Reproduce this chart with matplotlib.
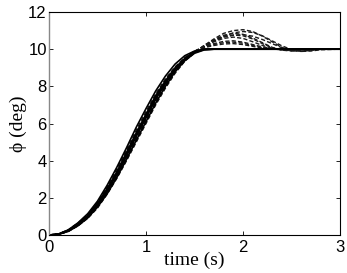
import matplotlib
matplotlib.use('Agg')
import matplotlib.pyplot as plt

# shared time base (s)
t = [0, 0.1, 0.2, 0.3, 0.4, 0.5, 0.6, 0.7, 0.8, 0.9, 1.0, 1.1, 1.2, 1.3, 1.4,
     1.5, 1.6, 1.7, 1.8, 1.9, 2.0, 2.1, 2.2, 2.3, 2.4, 2.5, 2.6, 2.7, 2.8, 3.0]

# solid curves - no overshoot
s1 = [0, 0.06, 0.28, 0.66, 1.15, 1.82, 2.68, 3.65, 4.7, 5.8, 6.8, 7.75, 8.55, 9.2, 9.65,
      9.9, 10.0, 10, 10, 10, 10, 10, 10, 10, 10, 10, 10, 10, 10, 10]
s2 = [0, 0.05, 0.25, 0.6, 1.05, 1.7, 2.5, 3.4, 4.45, 5.5, 6.5, 7.5, 8.3, 9.0, 9.5,
      9.85, 10.0, 10, 10, 10, 10, 10, 10, 10, 10, 10, 10, 10, 10, 10]
s3 = [0, 0.04, 0.22, 0.55, 0.98, 1.58, 2.35, 3.25, 4.25, 5.3, 6.3, 7.3, 8.15, 8.88, 9.45,
      9.82, 9.98, 10, 10, 10, 10, 10, 10, 10, 10, 10, 10, 10, 10, 10]
s4 = [0, 0.04, 0.2, 0.5, 0.92, 1.5, 2.22, 3.1, 4.08, 5.1, 6.1, 7.1, 8.0, 8.78, 9.38,
      9.78, 9.96, 10, 10, 10, 10, 10, 10, 10, 10, 10, 10, 10, 10, 10]
s5 = [0, 0.05, 0.24, 0.58, 1.02, 1.64, 2.42, 3.32, 4.35, 5.4, 6.4, 7.4, 8.22, 8.94, 9.48,
      9.84, 9.99, 10, 10, 10, 10, 10, 10, 10, 10, 10, 10, 10, 10, 10]

# dashed curves - with overshoot
d1 = [0, 0.04, 0.2, 0.5, 0.9, 1.45, 2.2, 3.05, 4.0, 5.0, 6.0, 7.0, 7.9, 8.7, 9.35,
      9.8, 10.2, 10.55, 10.85, 11.0, 11.05, 10.95, 10.7, 10.4, 10.1, 9.92, 9.88, 9.95, 10.0, 10.0]
d2 = [0, 0.05, 0.22, 0.55, 0.95, 1.55, 2.3, 3.2, 4.2, 5.2, 6.2, 7.2, 8.1, 8.85, 9.45,
      9.85, 10.2, 10.5, 10.75, 10.85, 10.8, 10.6, 10.35, 10.1, 9.95, 9.9, 9.95, 10, 10, 10]
d3 = [0, 0.05, 0.25, 0.6, 1.05, 1.65, 2.45, 3.35, 4.35, 5.4, 6.4, 7.35, 8.2, 8.9, 9.5,
      9.88, 10.15, 10.4, 10.58, 10.65, 10.58, 10.4, 10.2, 10.05, 9.97, 9.95, 9.97, 10, 10, 10]
d4 = [0, 0.06, 0.28, 0.65, 1.1, 1.75, 2.6, 3.55, 4.6, 5.65, 6.65, 7.6, 8.4, 9.05, 9.55,
      9.9, 10.12, 10.3, 10.42, 10.45, 10.38, 10.25, 10.12, 10.03, 9.98, 9.98, 10, 10, 10, 10]
d5 = [0, 0.05, 0.26, 0.62, 1.08, 1.7, 2.5, 3.45, 4.5, 5.55, 6.55, 7.5, 8.35, 9.0, 9.52,
      9.88, 10.08, 10.2, 10.28, 10.3, 10.25, 10.15, 10.06, 10.0, 9.98, 10, 10, 10, 10, 10]
d6 = [0, 0.04, 0.21, 0.52, 0.93, 1.5, 2.25, 3.1, 4.05, 5.05, 6.05, 7.05, 7.95, 8.75, 9.38,
      9.82, 10.12, 10.42, 10.7, 10.88, 10.95, 10.9, 10.72, 10.45, 10.18, 9.98, 9.88, 9.9, 9.97, 10.0]
d7 = [0, 0.05, 0.23, 0.57, 1.0, 1.6, 2.38, 3.28, 4.28, 5.3, 6.3, 7.28, 8.15, 8.88, 9.47,
      9.86, 10.18, 10.46, 10.68, 10.76, 10.72, 10.55, 10.3, 10.08, 9.96, 9.92, 9.96, 10, 10, 10]
d8 = [0, 0.05, 0.24, 0.59, 1.03, 1.63, 2.42, 3.3, 4.32, 5.35, 6.35, 7.32, 8.18, 8.9, 9.48,
      9.87, 10.1, 10.25, 10.35, 10.38, 10.32, 10.2, 10.08, 10.01, 9.98, 9.99, 10, 10, 10, 10]
d9 = [0, 0.04, 0.21, 0.53, 0.95, 1.52, 2.28, 3.15, 4.12, 5.12, 6.12, 7.12, 8.02, 8.8, 9.42,
      9.84, 10.15, 10.45, 10.65, 10.75, 10.78, 10.7, 10.52, 10.3, 10.08, 9.94, 9.9, 9.94, 9.99, 10.0]

solid = [s1, s2, s3, s4, s5]
dashed = [d1, d2, d3, d4, d5, d6, d7, d8, d9]

fig = plt.figure(figsize=(3.47, 2.73), dpi=100)
ax = fig.add_axes([0.141, 0.139, 0.839, 0.817])

for y in dashed:
    ax.plot(t, y, color='#1a1a1a', lw=1.0, ls=(0, (3, 1.6)))
for y in solid:
    ax.plot(t, y, color='black', lw=1.2)

ax.set_xlim(0, 3)
ax.set_ylim(0, 12)
ax.set_xticks([0, 1, 2, 3])
ax.set_yticks([0, 2, 4, 6, 8, 10, 12])
ax.tick_params(direction='in', length=3, width=0.6, top=True, right=True,
               labelsize=12, pad=1.5)
ax.tick_params(axis='x', pad=3.5)
for lab in ax.get_xticklabels() + ax.get_yticklabels():
    lab.set_family('Liberation Sans')
for side in ['top', 'right', 'bottom']:
    ax.spines[side].set_color('black')
    ax.spines[side].set_linewidth(0.8)
ax.spines['left'].set_color('#888888')
ax.spines['left'].set_linewidth(1.0)

ax.set_xlabel('time (s)', family='Liberation Serif', fontsize=14, labelpad=-2)
ax.set_ylabel('ϕ (deg)', family='Liberation Serif', fontsize=14, labelpad=1)

fig.savefig('out.png', dpi=100)
